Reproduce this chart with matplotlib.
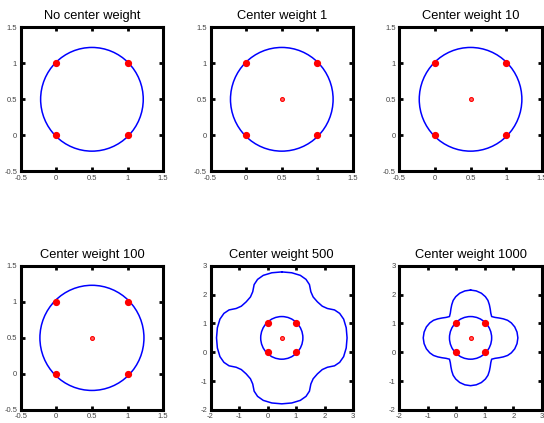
import numpy as np
import matplotlib.pyplot as plt
from matplotlib.patches import Circle

plt.rcParams['font.family'] = ['Liberation Sans', 'DejaVu Sans']

titles = ["No center weight", "Center weight 1", "Center weight 10",
          "Center weight 100", "Center weight 500", "Center weight 1000"]
has_center = [False, True, True, True, True, True]

# the four constraint points and the center point
corner_x = [0, 1, 0, 1]
corner_y = [0, 0, 1, 1]
center_x = 0.5
center_y = 0.5

# radius of the inner (circular) level curve
circle_r = [0.72, 0.72, 0.72, 0.73, 0.74, 0.74]

# axis ranges / ticks
small_lim = (-0.5, 1.5)
small_ticks = [-0.5, 0, 0.5, 1, 1.5]
small_labels = ["-0.5", "0", "0.5", "1", "1.5"]
big_lim = (-2, 3)
big_ticks = [-2, -1, 0, 1, 2, 3]
big_labels = ["-2", "-1", "0", "1", "2", "3"]

# outer level curve, one octant (top -> diagonal), offsets from the center
outer_500_dx = [0, -0.35, -0.65, -0.85, -0.97, -1.02, -1.10, -1.25]
outer_500_dy = [2.29, 2.26, 2.17, 2.03, 1.85, 1.60, 1.42, 1.25]
outer_1000_dx = [0, -0.2, -0.38, -0.52, -0.61, -0.66, -0.69, -0.71, -0.74]
outer_1000_dy = [1.66, 1.63, 1.55, 1.43, 1.30, 1.15, 1.00, 0.86, 0.74]
outer = {4: (outer_500_dx, outer_500_dy), 5: (outer_1000_dx, outer_1000_dy)}


def full_curve(dx, dy):
    # octant -> upper-left quadrant (mirror about the diagonal) -> full curve
    dx = np.array(dx)
    dy = np.array(dy)
    qx = np.concatenate([dx, -dy[::-1][1:]])
    qy = np.concatenate([dy, -dx[::-1][1:]])
    xs = np.concatenate([qx, qx[::-1], -qx, -qx[::-1]])
    ys = np.concatenate([qy, -qy[::-1], -qy, qy[::-1]])
    return center_x + xs, center_y + ys


fig = plt.figure(figsize=(5.44, 4.23), dpi=100)
lefts = [0.038, 0.387, 0.734]
bottoms = [0.595, 0.031]
w, h = 0.262, 0.3405

for i in range(6):
    ax = fig.add_axes([lefts[i % 3], bottoms[i // 3], w, h])
    if i < 4:
        lim, ticks, labels = small_lim, small_ticks, small_labels
    else:
        lim, ticks, labels = big_lim, big_ticks, big_labels

    ax.add_patch(Circle((center_x, center_y), circle_r[i], fill=False,
                        ec='#0000ff', lw=1.1))
    if i in outer:
        ox, oy = full_curve(*outer[i])
        ax.plot(ox, oy, color='#0000ff', lw=1.1)

    ax.plot(corner_x, corner_y, 'o', color='#ff0000', ms=4.2, mec='#ff0000')
    if has_center[i]:
        ax.plot([center_x], [center_y], 'o', ms=2.8, mfc='#ff6060',
                mec='#ff0000', mew=0.8)

    ax.set_xlim(lim)
    ax.set_ylim(lim)
    ax.set_xticks(ticks)
    ax.set_yticks(ticks)
    ax.set_xticklabels(labels)
    ax.set_yticklabels(labels)
    ax.tick_params(direction='in', length=3, width=2, labelsize=5.5,
                   labelcolor='#444444', top=True, right=True, pad=2.5)
    for s in ax.spines.values():
        s.set_linewidth(2.2)
    ax.set_title(titles[i], fontsize=9.3, pad=6)

fig.savefig("out.png", dpi=100)
